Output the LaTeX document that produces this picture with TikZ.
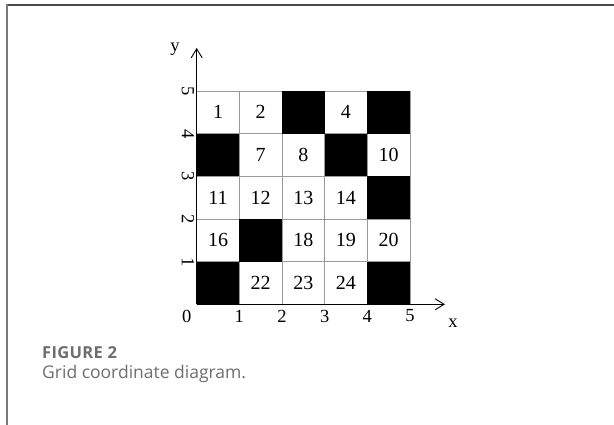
\documentclass[tikz,border=0pt]{standalone}
\usepackage{fontspec}
\setmainfont{Liberation Serif}
\newfontfamily\capfont{Open Sans}
\usetikzlibrary{arrows.meta}
\definecolor{frameTop}{HTML}{4A4A4A}
\definecolor{frameLeft}{HTML}{7A7A7A}
\definecolor{gridgray}{HTML}{9A9A9A}
\definecolor{capgray}{HTML}{6E6E6E}
\tikzset{
  num/.style={inner sep=0pt, font=\fontsize{20}{20}\selectfont},
  ticklab/.style={inner sep=0pt, font=\fontsize{18.5}{18.5}\selectfont},
  axis/.style={draw=black, line width=0.9pt, -{Straight Barb[length=9pt,width=11pt,line width=0.9pt]}},
  gridline/.style={draw=gridgray, line width=0.8pt},
  blackcell/.style={fill=black},
  captitle/.style={inner sep=0pt, anchor=base west, text=capgray, font=\capfont\bfseries\fontsize{16.5}{17}\selectfont\addfontfeatures{LetterSpace=2}},
  captext/.style={inner sep=0pt, anchor=base west, text=capgray, font=\capfont\fontsize{17.5}{18}\selectfont}
}
\begin{document}
\begin{tikzpicture}[x=1pt,y=-1pt]
\useasboundingbox (0,0) rectangle (614,425);
\fill[white] (0,0) rectangle (614,425);
% frame
\draw[frameTop, line width=1.3pt] (6.5,5) -- (614,5);
\draw[frameLeft, line width=1.8pt] (7.3,4.4) -- (7.3,425);
% grid
\begin{scope}[shift={(196.7,304.3)}, x=42.65pt, y=42.65pt]
  \draw[gridline, step=1] (0,0) grid (5,5);
  \foreach \i/\j in {2/4,4/4,0/3,3/3,4/2,1/1,0/0,4/0}{
    \fill[blackcell] (\i,\j) rectangle ++(1,1);
  }
  \coordinate (O) at (0,0);
  \coordinate (ytip) at (0,6.01);
  \coordinate (xtip) at (5.82,0);
  \draw[axis] (O) -- (ytip);
  \draw[axis] (O) -- (xtip);
  % cell numbers
  \foreach \n/\i/\j in {1/0/4,2/1/4,4/3/4,7/1/3,8/2/3,10/4/3,11/0/2,12/1/2,13/2/2,14/3/2,16/0/1,18/2/1,19/3/1,20/4/1,22/1/0,23/2/0,24/3/0}{
    \node[num] (c\n) at (\i+0.5,\j+0.5) {\n};
  }
  % x tick labels
  \node[ticklab] (x0) at (-0.234,-0.275) {0};
  \foreach \k in {1,...,5}{
    \node[ticklab] (x\k) at (\k,-0.275) {\k};
  }
  % y tick labels
  \foreach \k in {1,...,5}{
    \node[ticklab, rotate=-90] (y\k) at (-0.205,\k) {\k};
  }
  \node[ticklab] (ylab) at (-0.509,5.99) {y};
  \node[ticklab] (xlab) at (6.01,-0.44) {x};
\end{scope}
% caption
\node[captitle] (figtitle) at (42,359) {FIGURE 2};
\node[captext] (figtext) at (42,378.5) {Grid coordinate diagram.};
\end{tikzpicture}
\end{document}
